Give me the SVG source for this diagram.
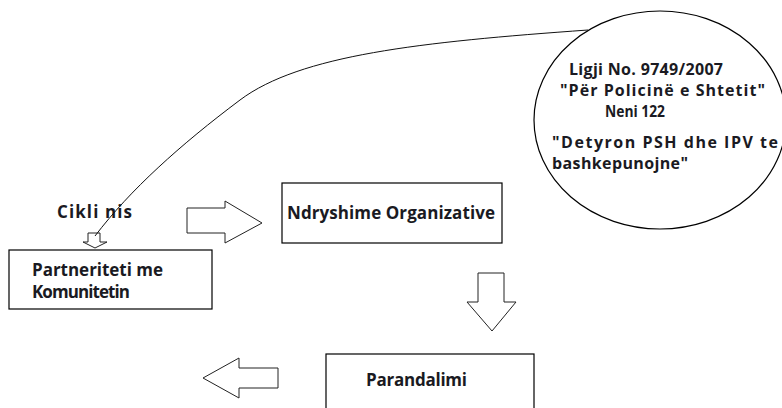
<svg xmlns="http://www.w3.org/2000/svg" width="782" height="408" viewBox="0 0 782 408">
<style>
.box{fill:#fff;stroke:#000;stroke-width:1.2}
.arr{fill:#fff;stroke:#222;stroke-width:1}
.t{font-family:"Open Sans","Noto Sans","Liberation Sans",sans-serif;font-weight:bold;font-size:17px;fill:#1a1a22}
.s{font-size:16px}
.con{fill:none;stroke:#111;stroke-width:1}
</style>
<rect width="782" height="408" fill="#fff"/>
<g id="ligji">
<ellipse class="box" cx="660" cy="120" rx="126" ry="109"/>
<text class="t s" x="569" y="75" textLength="154" lengthAdjust="spacing">Ligji  No. 9749/2007</text>
<text class="t s" x="560" y="96" textLength="205" lengthAdjust="spacing">"Për Policinë e Shtetit"</text>
<text class="t s" x="605" y="117" textLength="60" lengthAdjust="spacingAndGlyphs">Neni 122</text>
<text class="t s" x="552" y="148" textLength="226" lengthAdjust="spacing">"Detyron PSH dhe IPV te</text>
<text class="t s" x="552" y="169" textLength="136" lengthAdjust="spacing">bashkepunojne"</text>
</g>
<g id="partneriteti">
<rect class="box" x="9" y="250" width="203" height="59"/>
<text class="t" x="32" y="276" textLength="131" lengthAdjust="spacing">Partneriteti me</text>
<text class="t" x="32" y="298" textLength="98" lengthAdjust="spacing">Komunitetin</text>
</g>
<g id="ndryshime">
<rect class="box" x="282" y="183" width="220" height="60"/>
<text class="t" x="287" y="219" textLength="208" lengthAdjust="spacing">Ndryshime Organizative</text>
</g>
<g id="parandalimi">
<rect class="box" x="326" y="354" width="208" height="60"/>
<text class="t" x="366" y="386" textLength="101" lengthAdjust="spacing">Parandalimi</text>
</g>
<g id="connectors">
<text class="t" x="57" y="218" textLength="75" lengthAdjust="spacing">Cikli nis</text>
<polygon class="arr" points="88,233 100,233 100,242 107,242 95,248 83,242 88,242"/>
<path class="con" d="M588,30 C420,42 300,55 240,100 C180,145 130,190 95,236"/>
<polygon class="arr" points="187,208 225,208 225,201 262,223 225,243 225,233 187,233"/>
<polygon class="arr" points="478,273 504,273 504,302 516,302 492,331 467,302 478,302"/>
<polygon class="arr" points="203,378 239,358 239,368 278,368 278,388 239,388 239,398"/>
</g>
</svg>
